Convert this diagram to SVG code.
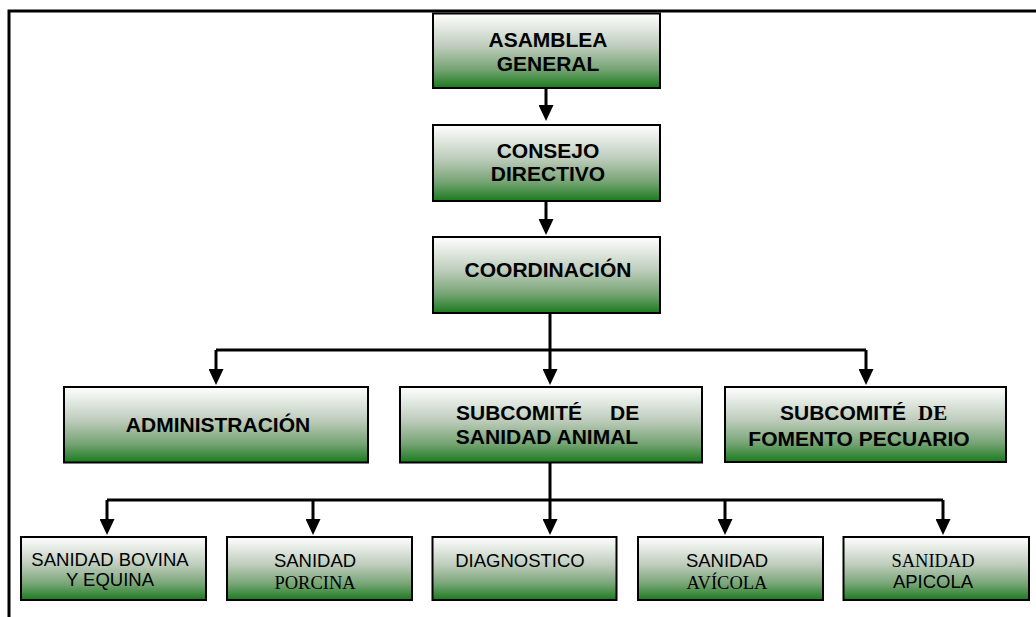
<svg xmlns="http://www.w3.org/2000/svg" width="1036" height="617" viewBox="0 0 1036 617">
<style>
.box{fill:url(#g);stroke:#000;stroke-width:2}
.b{font-family:"Liberation Sans",Arial,sans-serif;font-weight:bold;font-size:21px;fill:#000}
.r{font-family:"Liberation Sans",Arial,sans-serif;font-size:18.5px;fill:#000}
.s{font-family:"Liberation Serif","Times New Roman",serif;font-size:18.5px;fill:#000}
.sb{font-family:"Liberation Serif","Times New Roman",serif;font-weight:bold;font-size:21px;fill:#000}
.ln{fill:none;stroke:#000;stroke-width:3}
.ar{fill:none;stroke:#000;stroke-width:3;marker-end:url(#ah)}
</style>
<defs>
<linearGradient id="g" x1="0" y1="0" x2="0" y2="1">
<stop offset="0" stop-color="#ffffff"/>
<stop offset="0.45" stop-color="#bccbba"/>
<stop offset="0.75" stop-color="#76a474"/>
<stop offset="1" stop-color="#1a7b1d"/>
</linearGradient>
<marker id="ah" markerUnits="userSpaceOnUse" markerWidth="16" markerHeight="15" viewBox="0 0 16 15" refX="2" refY="7.5" orient="auto">
<path d="M0,0 L16,7.5 L0,15 z" fill="#000"/>
</marker>
</defs>
<rect width="1036" height="617" fill="#fff"/>
<g id="frame">
<path class="ln" d="M9,617 V11 H1036"/>
</g>
<g id="connectors">
<path class="ar" d="M546,88 V107"/>
<path class="ar" d="M546,201 V221"/>
<path class="ar" d="M550,313 V371"/>
<path class="ln" d="M216,350 H866"/>
<path class="ar" d="M216,350 V371"/>
<path class="ar" d="M866,350 V371"/>
<path class="ar" d="M550,462 V521"/>
<path class="ln" d="M107,500 H943"/>
<path class="ar" d="M107,500 V521"/>
<path class="ar" d="M313,500 V521"/>
<path class="ar" d="M725,500 V521"/>
<path class="ar" d="M943,500 V521"/>
</g>
<g id="asamblea">
<rect class="box" x="433" y="13.5" width="227" height="74.5"/>
<text class="b" x="548" y="47" text-anchor="middle">ASAMBLEA</text>
<text class="b" x="548" y="71" text-anchor="middle">GENERAL</text>
</g>
<g id="consejo">
<rect class="box" x="433" y="125" width="227" height="76"/>
<text class="b" x="548" y="157.5" text-anchor="middle">CONSEJO</text>
<text class="b" x="548" y="181" text-anchor="middle">DIRECTIVO</text>
</g>
<g id="coordinacion">
<rect class="box" x="433" y="237" width="227" height="76"/>
<text class="b" x="548" y="277" text-anchor="middle">COORDINACIÓN</text>
</g>
<g id="administracion">
<rect class="box" x="64" y="387" width="304" height="75.5"/>
<text class="b" x="218" y="431.5" text-anchor="middle">ADMINISTRACIÓN</text>
</g>
<g id="sanidad-animal">
<rect class="box" x="400" y="387" width="302" height="75.5"/>
<text class="b" x="456" y="420">SUBCOMITÉ</text>
<text class="b" x="610" y="420">DE</text>
<text class="b" x="547" y="443.5" text-anchor="middle">SANIDAD ANIMAL</text>
</g>
<g id="fomento">
<rect class="box" x="725" y="387" width="281" height="75"/>
<text class="b" x="780" y="420">SUBCOMITÉ</text>
<text class="sb" x="918" y="420">DE</text>
<text class="b" x="859" y="446" text-anchor="middle">FOMENTO PECUARIO</text>
</g>
<g id="bovina">
<rect class="box" x="21" y="537" width="185" height="63"/>
<text class="r" x="110" y="565.5" text-anchor="middle">SANIDAD BOVINA</text>
<text class="r" x="110" y="586" text-anchor="middle">Y EQUINA</text>
</g>
<g id="porcina">
<rect class="box" x="227" y="537" width="185" height="63"/>
<text class="r" x="315" y="566.5" text-anchor="middle">SANIDAD</text>
<text class="s" x="315" y="589" text-anchor="middle">PORCINA</text>
</g>
<g id="diagnostico">
<rect class="box" x="432.5" y="537" width="184" height="63"/>
<text class="r" x="520" y="566.5" text-anchor="middle">DIAGNOSTICO</text>
</g>
<g id="avicola">
<rect class="box" x="638" y="537" width="185" height="63"/>
<text class="r" x="727" y="567" text-anchor="middle">SANIDAD</text>
<text class="s" x="727" y="589" text-anchor="middle">AVÍCOLA</text>
</g>
<g id="apicola">
<rect class="box" x="843.5" y="537" width="185.5" height="63"/>
<text class="s" x="933" y="566.5" text-anchor="middle">SANIDAD</text>
<text class="r" x="933" y="588" text-anchor="middle">APICOLA</text>
</g>
</svg>
